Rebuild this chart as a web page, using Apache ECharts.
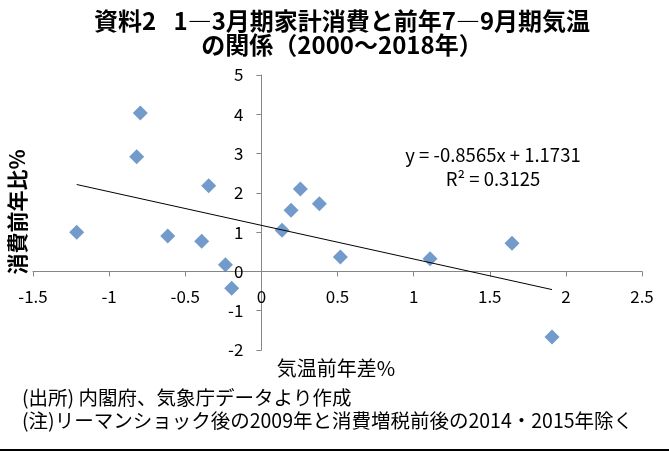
<!DOCTYPE html>
<html>
<head>
<meta charset="utf-8">
<script src="https://cdn.jsdelivr.net/npm/echarts@6/dist/echarts.min.js"></script>
<style>html,body{margin:0;padding:0;background:#fff;}#c{width:669px;height:451px;}</style>
</head>
<body>
<div id="c"></div>
<script>
// Data
var tempDiff = [-0.795, -0.819, -0.346, -1.213, -0.615, -0.392, -0.236, -0.195, 0.136, 0.195, 0.256, 0.381, 0.519, 1.108, 1.646, 1.909];
var consumption = [4.03, 2.92, 2.18, 1.00, 0.90, 0.77, 0.17, -0.43, 1.05, 1.56, 2.10, 1.72, 0.37, 0.32, 0.72, -1.67];
var trendX = [-1.213, 1.909];
var trendY = [2.212, -0.462];
var xTicks = [-1.5, 2.5, 0.5];
var yTicks = [-2, 5, 1];
var titleText = '資料2\u2002 1―3月期家計消費と前年7―9月期気温\nの関係（2000～2018年）';
var equationText = 'y = -0.8565x + 1.1731';
var r2Text = 'R² = 0.3125';
var xName = '気温前年差%';
var yName = '消費前年比%';
var note1 = '(出所) 内閣府、気象庁データより作成';
var note2 = '(注)リーマンショック後の2009年と消費増税前後の2014・2015年除く';

var points = tempDiff.map(function (x, i) { return [x, consumption[i]]; });
var trend = trendX.map(function (x, i) { return [x, trendY[i]]; });

var FONT = '"Noto Sans CJK JP", "Noto Sans", sans-serif';
var chart = echarts.init(document.getElementById('c'), null, { renderer: 'canvas' });
chart.setOption({
  animation: false,
  backgroundColor: '#ffffff',
  textStyle: { fontFamily: FONT },
  title: [{
    text: titleText,
    left: 337, top: 4, textAlign: 'center',
    textStyle: { fontFamily: FONT, fontSize: 24, fontWeight: 'bold', color: '#000', lineHeight: 24 }
  }],
  grid: { left: 33, right: 27, top: 75, bottom: 101, containLabel: false, outerBoundsMode: 'none' },
  xAxis: {
    type: 'value', min: xTicks[0], max: xTicks[1], interval: xTicks[2],
    position: 'bottom',
    axisLine: { onZero: false, lineStyle: { color: '#868686', width: 1 } },
    axisTick: { show: true, length: 5, lineStyle: { color: '#868686' } },
    splitLine: { show: false },
    axisLabel: { margin: 17, color: '#000', fontSize: 17, fontFamily: FONT }
  },
  yAxis: {
    type: 'value', min: yTicks[0], max: yTicks[1], interval: yTicks[2],
    position: 'left',
    axisLine: { onZero: false, lineStyle: { color: '#868686', width: 1 } },
    axisTick: { show: true, length: 5, lineStyle: { color: '#868686' } },
    splitLine: { show: false },
    axisLabel: { margin: 18, color: '#000', fontSize: 17, fontFamily: FONT }
  },
  series: [{
    type: 'scatter',
    data: points,
    symbol: 'diamond',
    symbolSize: 15,
    itemStyle: { color: '#4F81BD' },
    z: 2
  }, {
    type: 'line',
    data: trend,
    showSymbol: false,
    symbol: 'none',
    lineStyle: { color: '#000', width: 1 },
    silent: true,
    z: 3
  }],
  graphic: [{
    type: 'text', x: 493, y: 155,
    style: { text: equationText, align: 'center', verticalAlign: 'middle', fill: '#000', font: '18.5px ' + FONT }
  }, {
    type: 'text', x: 493, y: 179,
    style: { text: r2Text, align: 'center', verticalAlign: 'middle', fill: '#000', font: '18.5px ' + FONT }
  }, {
    type: 'text', x: 336, y: 368,
    style: { text: xName, align: 'center', verticalAlign: 'middle', fill: '#000', font: '20px ' + FONT }
  }, {
    type: 'text', x: 17, y: 212, rotation: Math.PI / 2,
    style: { text: yName, align: 'center', verticalAlign: 'middle', fill: '#000', font: 'bold 21px ' + FONT }
  }, {
    type: 'text', x: 22, y: 398,
    style: { text: note1, align: 'left', verticalAlign: 'middle', fill: '#000', font: '19.5px ' + FONT }
  }, {
    type: 'text', x: 22, y: 421,
    style: { text: note2, align: 'left', verticalAlign: 'middle', fill: '#000', font: '19.5px ' + FONT }
  }, {
    type: 'line', shape: { x1: 0, y1: 450, x2: 669, y2: 450 },
    style: { stroke: '#000', lineWidth: 2 }
  }]
});

// Move the axes so that they cross at the zero point (labels follow the lines)
var origin = chart.convertToPixel({ gridIndex: 0 }, [0, 0]);
var corner = chart.convertToPixel({ gridIndex: 0 }, [xTicks[0], yTicks[0]]);
chart.setOption({
  xAxis: { offset: origin[1] - corner[1] },
  yAxis: { offset: corner[0] - origin[0] }
});
</script>
</body>
</html>
